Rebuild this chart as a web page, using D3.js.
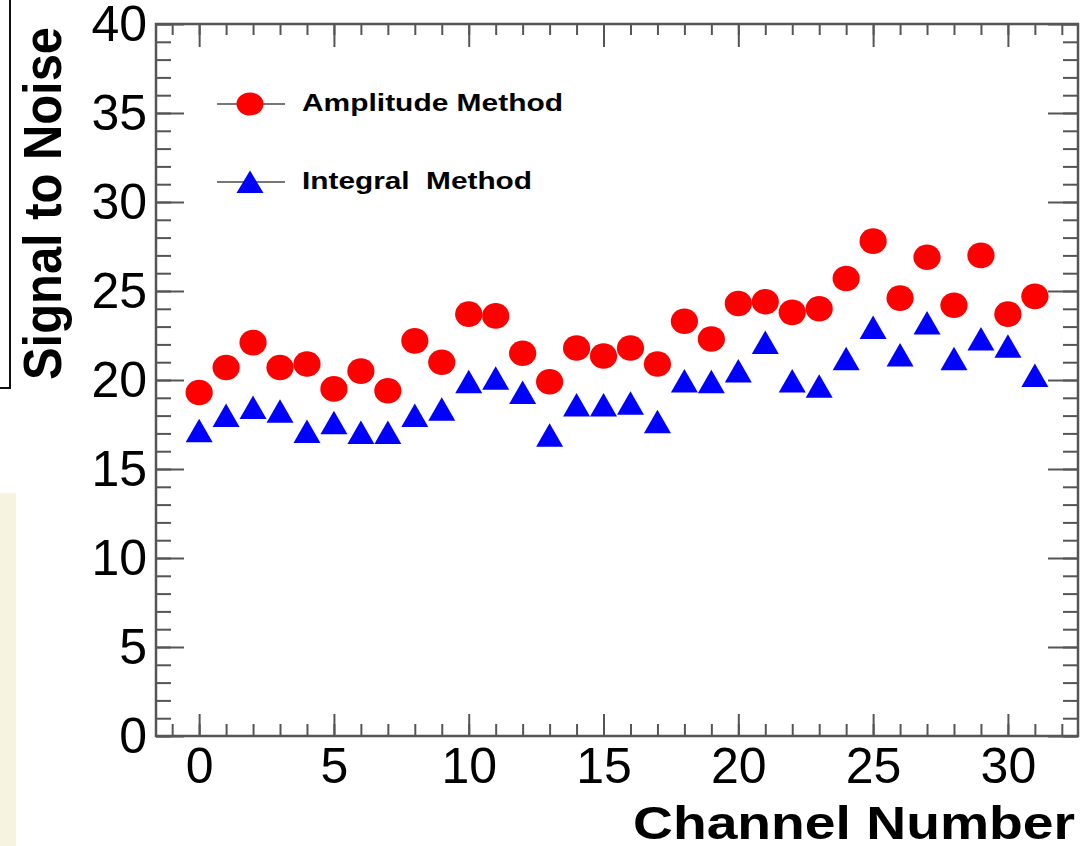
<!DOCTYPE html>
<html><head><meta charset="utf-8">
<script src="https://cdn.jsdelivr.net/npm/d3@7"></script>
<style>body{margin:0;background:#fff}svg{display:block}</style>
</head><body>
<script>
const channels = d3.range(0, 32);
const amplitude = [19.3,20.7,22.1,20.7,20.9,19.5,20.5,19.4,22.2,21.0,23.7,23.6,21.5,19.9,21.8,21.35,21.8,20.9,23.3,22.3,24.3,24.4,23.8,24.0,25.7,27.8,24.6,26.9,24.2,27.0,23.7,24.7];
const integral  = [17.15,18.0,18.45,18.25,17.1,17.6,17.05,17.05,18.0,18.35,19.9,20.1,19.3,16.9,18.6,18.6,18.7,17.65,19.95,19.9,20.5,22.1,19.95,19.65,21.2,22.95,21.4,23.2,21.2,22.3,21.9,20.25];
const xMajorTicks = [0,5,10,15,20,25,30];
const yMajorTicks = [0,5,10,15,20,25,30,35,40];
const seriesNames = ["Amplitude Method","Integral  Method"];
const xTitle = "Channel Number";
const yTitle = "Signal to Noise";

const W = 1086, H = 846;
const svg = d3.select("body").append("svg").attr("width", W).attr("height", H);

// left-edge artefacts of the source slide
svg.append("rect").attr("x",0).attr("y",493).attr("width",16).attr("height",H-493).attr("fill","#f6f4df");
svg.append("path").attr("d","M10,0 V388 H0").attr("fill","none").attr("stroke","#111").attr("stroke-width",2);

const x = d3.scaleLinear().domain([-1.6, 32.6]).range([156, 1078]);
const y = d3.scaleLinear().domain([0, 40]).range([736, 24]);
const axisColor = "#555";
const tickFont = "'Liberation Sans', Arial, Helvetica, sans-serif";

function styleAxis(g){
  g.select(".domain").remove();
  g.selectAll(".tick line").attr("stroke", axisColor).attr("stroke-width", 2);
  g.selectAll("text").attr("fill","#000").attr("font-family", tickFont).attr("font-size", 50);
}
const xMinor = d3.range(-1, 33);
const yMinor = d3.range(0, 41);

// bottom
svg.append("g").attr("transform","translate(0,736)")
  .call(d3.axisBottom(x).tickValues(xMinor).tickSize(-12).tickFormat("")).call(styleAxis);
svg.append("g").attr("transform","translate(0,736)")
  .call(d3.axisBottom(x).tickValues(xMajorTicks).tickSize(-22).tickPadding(11).tickFormat(d3.format("d"))).call(styleAxis);
// top
svg.append("g").attr("transform","translate(0,24)")
  .call(d3.axisTop(x).tickValues(xMinor).tickSize(-11).tickFormat("")).call(styleAxis);
svg.append("g").attr("transform","translate(0,24)")
  .call(d3.axisTop(x).tickValues(xMajorTicks).tickSize(-23).tickFormat("")).call(styleAxis);
// left
svg.append("g").attr("transform","translate(156,0)")
  .call(d3.axisLeft(y).tickValues(yMinor).tickSize(-15).tickFormat("")).call(styleAxis);
svg.append("g").attr("transform","translate(156,0)")
  .call(d3.axisLeft(y).tickValues(yMajorTicks).tickSize(-28).tickPadding(9).tickFormat(d3.format("d"))).call(styleAxis);
// right
svg.append("g").attr("transform","translate(1078,0)")
  .call(d3.axisRight(y).tickValues(yMinor).tickSize(-15).tickFormat("")).call(styleAxis);
svg.append("g").attr("transform","translate(1078,0)")
  .call(d3.axisRight(y).tickValues(yMajorTicks).tickSize(-30).tickFormat("")).call(styleAxis);

// frame
svg.append("rect").attr("x",156).attr("y",24).attr("width",1078-156).attr("height",736-24)
  .attr("fill","none").attr("stroke",axisColor).attr("stroke-width",2.5);

// markers
const triPath = "M0,-12 L13.5,11.5 L-13.5,11.5 Z";
svg.append("g").selectAll("ellipse").data(channels).join("ellipse")
  .attr("cx", d => x(d)).attr("cy", d => y(amplitude[d]))
  .attr("rx", 13.6).attr("ry", 12.8).attr("fill", "#ff0000");
svg.append("g").selectAll("path").data(channels).join("path")
  .attr("transform", d => `translate(${x(d)},${y(integral[d])})`)
  .attr("d", triPath).attr("fill", "#0000ff");

// legend
const leg = svg.append("g");
const legY = [104, 182];
const legLen = [261, 230];
seriesNames.forEach((name, i) => {
  const g = leg.append("g").attr("transform", `translate(0,${legY[i]})`);
  g.append("line").attr("x1",217).attr("x2",285).attr("y1",0).attr("y2",0).attr("stroke","#777").attr("stroke-width",2);
  if (i === 0) g.append("ellipse").attr("cx",250).attr("cy",0).attr("rx",13.5).attr("ry",11.5).attr("fill","#ff0000");
  else g.append("path").attr("transform","translate(250,0)").attr("d","M0,-11.5 L13.5,11 L-13.5,11 Z").attr("fill","#0000ff");
  g.append("text").attr("x",302).attr("y",7).attr("font-family",tickFont).attr("font-weight","bold")
    .attr("font-size",23).attr("textLength",legLen[i]).attr("lengthAdjust","spacingAndGlyphs")
    .style("white-space","pre").attr("fill","#000").text(name);
});

// axis titles
svg.append("text").attr("x",633).attr("y",839).attr("font-family",tickFont).attr("font-weight","bold")
  .attr("font-size",47).attr("textLength",442).attr("lengthAdjust","spacingAndGlyphs").attr("fill","#000").text(xTitle);
svg.append("text").attr("transform","translate(61,380) rotate(-90)").attr("font-family",tickFont).attr("font-weight","bold")
  .attr("font-size",53).attr("textLength",353).attr("lengthAdjust","spacingAndGlyphs").attr("fill","#000").text(yTitle);
</script>
</body></html>
